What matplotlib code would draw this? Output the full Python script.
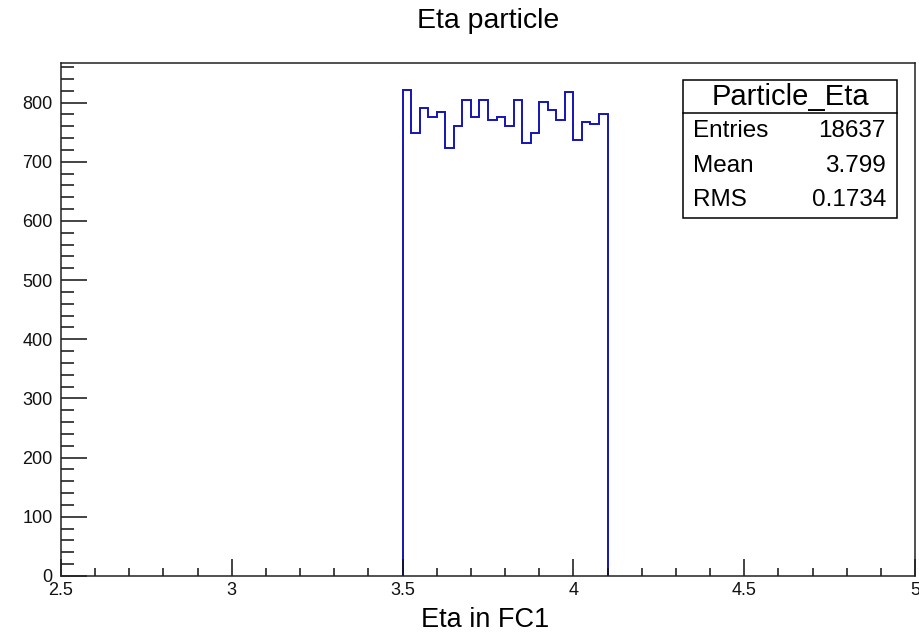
import numpy as np
import matplotlib.pyplot as plt
from matplotlib.patches import Rectangle
from matplotlib.ticker import MultipleLocator

plt.rcParams['font.family'] = ['Liberation Sans', 'DejaVu Sans']

# eta histogram, 24 bins of 0.025 starting at 3.5
bin_lo = 3.5
bin_width = 0.025
counts = [822, 749, 791, 775, 784, 723, 761, 804, 775, 804, 771, 775,
          761, 804, 732, 749, 801, 788, 771, 818, 737, 767, 764, 781]

hist_name = "Particle_Eta"
stat_names = ["Entries", "Mean", "RMS"]
stat_values = ["18637", "3.799", "0.1734"]

edges = bin_lo + bin_width * np.arange(len(counts) + 1)

W, H = 919, 637
fig = plt.figure(figsize=(W / 100, H / 100), dpi=100)
ax = fig.add_axes([61 / W, 1 - 576 / H, (915 - 61) / W, (576 - 63) / H])

ax.stairs(counts, edges, baseline=0, color='#1414b4', linewidth=1.4)

ax.set_xlim(2.5, 5)
ax.set_ylim(0, 867)
ax.xaxis.set_major_locator(MultipleLocator(0.5))
ax.xaxis.set_minor_locator(MultipleLocator(0.1))
ax.yaxis.set_major_locator(MultipleLocator(100))
ax.yaxis.set_minor_locator(MultipleLocator(20))
ax.set_xticks([2.5, 3, 3.5, 4, 4.5, 5])
ax.set_xticklabels(["2.5", "3", "3.5", "4", "4.5", "5"])

ax.tick_params(axis='both', which='both', direction='in', top=False, right=False,
               colors='#111111', labelsize=13, width=1.1)
ax.tick_params(axis='x', which='major', length=12, pad=4)
ax.tick_params(axis='x', which='minor', length=6)
ax.tick_params(axis='y', which='major', length=19, pad=6)
ax.tick_params(axis='y', which='minor', length=9.5)
for sp in ax.spines.values():
    sp.set_linewidth(1.1)
    sp.set_color('#222222')

# title and axis title
fig.text(488 / W, 1 - 21 / H, "Eta particle", ha='center', va='center', fontsize=20.5)
fig.text(485 / W, 1 - 620 / H, "Eta in FC1", ha='center', va='center', fontsize=19.5)

# stats box
bx0, bx1, by0, by1, bsep = 683, 897, 80, 218, 113
fig.patches.append(Rectangle((bx0 / W, 1 - by1 / H), (bx1 - bx0) / W, (by1 - by0) / H,
                             transform=fig.transFigure, facecolor='white',
                             edgecolor='black', linewidth=1.1, zorder=5))
fig.add_artist(plt.Line2D([bx0 / W, bx1 / W], [1 - bsep / H, 1 - bsep / H],
                          transform=fig.transFigure, color='black', linewidth=1.1, zorder=6))
fig.text((bx0 + bx1) / 2 / W, 1 - 97 / H, hist_name, ha='center', va='center',
         fontsize=21, zorder=7)
for i, (name, val) in enumerate(zip(stat_names, stat_values)):
    yc = 1 - (131 + 34.5 * i) / H
    fig.text(693 / W, yc, name, ha='left', va='center', fontsize=17.5, zorder=7)
    fig.text(886 / W, yc, val, ha='right', va='center', fontsize=17.5, zorder=7)

fig.savefig('out.png', dpi=100)
